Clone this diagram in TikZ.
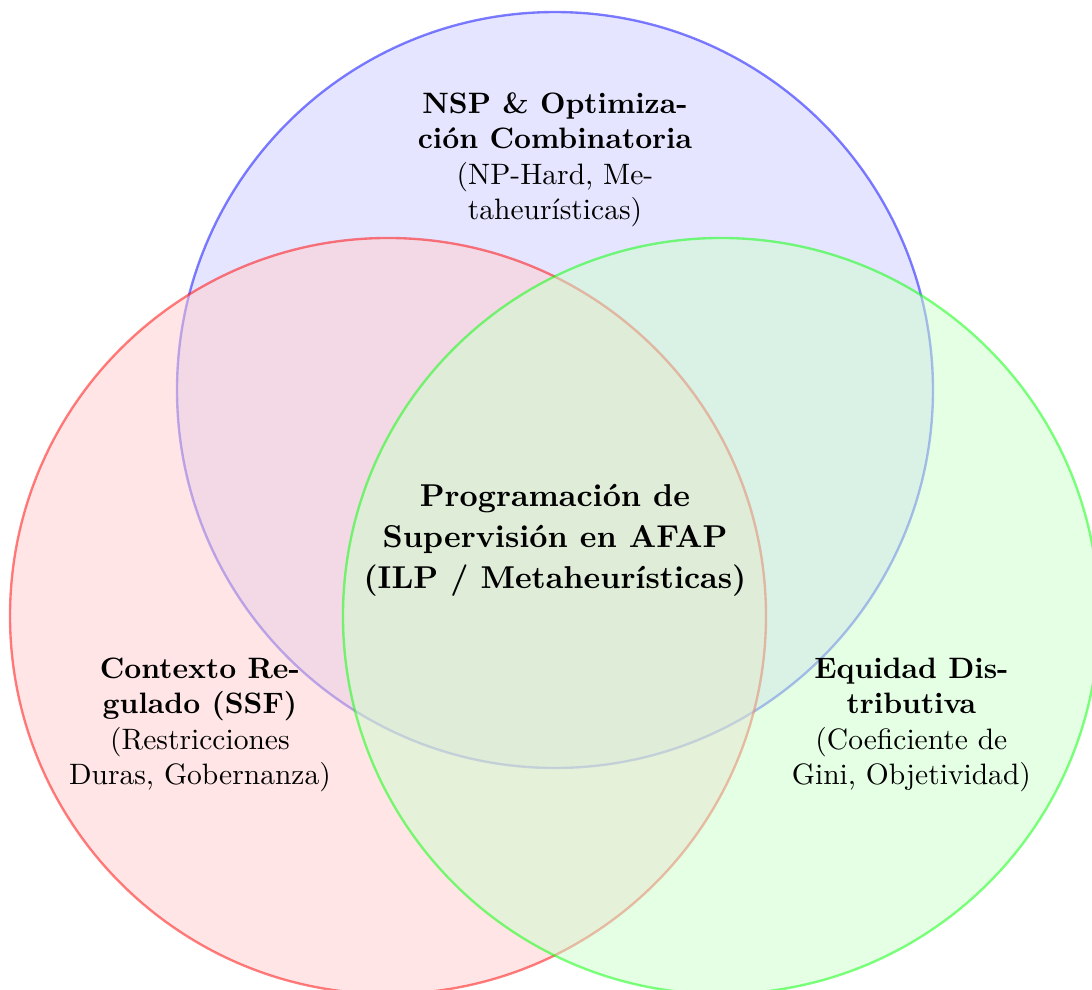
\documentclass[tikz,border=0pt]{standalone}
\usepackage{fontspec}
\begin{document}
\begin{tikzpicture}[
  setcircle/.style={circle, thick, opacity=0.5, minimum size=9cm, inner sep=0pt},
  lbl/.style={align=center, inner sep=0pt},
  lblbig/.style={align=center, inner sep=0pt, font=\fontsize{10.7pt}{13.9pt}\selectfont\bfseries}
]
\useasboundingbox (0,0) rectangle (13,-11.774);
\begin{scope}
\clip (0,0) rectangle (13,-11.774);
\node[setcircle, draw=blue, fill=blue!20] (cb) at (6.607,-4.643) {};
\node[setcircle, draw=red, fill=red!20] (cr) at (4.619,-7.333) {};
\node[setcircle, draw=green, fill=green!20] (cg) at (8.583,-7.333) {};
\end{scope}
\node[lbl] (tb) at (6.607,-1.90) {\textbf{NSP \& Optimiza-}\\\textbf{ción Combinatoria}\\(NP-Hard, Me-\\taheurísticas)};
\node[lbl] (tr) at (2.38,-8.63) {\textbf{Contexto Re-}\\\textbf{gulado (SSF)}\\(Restricciones\\Duras, Gobernanza)};
\node[lbl] (tg) at (10.85,-8.63) {\textbf{Equidad Dis-}\\\textbf{tributiva}\\(Coeficiente de\\Gini, Objetividad)};
\node[lblbig] (tc) at (6.607,-6.43) {Programación de\\Supervisión en AFAP\\(ILP / Metaheurísticas)};
\end{tikzpicture}
\end{document}
